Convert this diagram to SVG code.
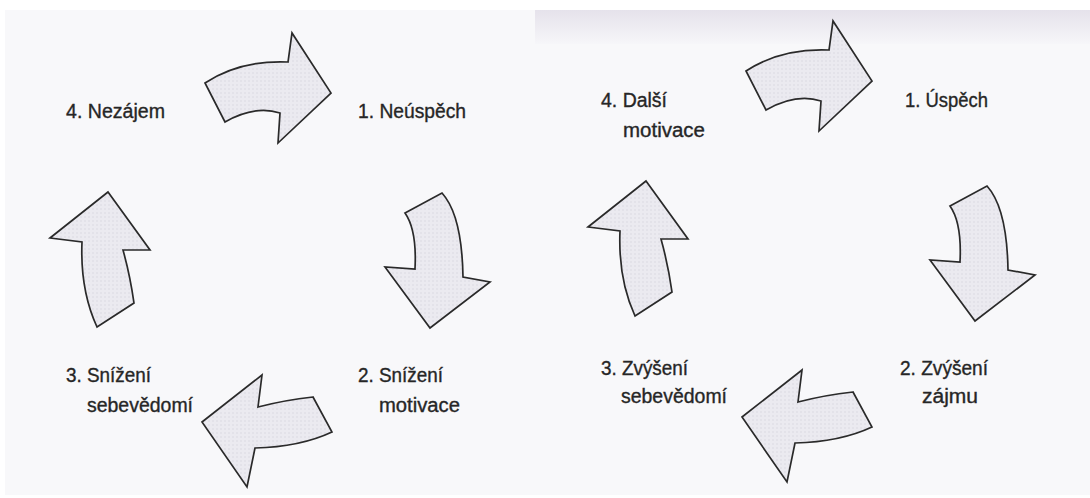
<svg xmlns="http://www.w3.org/2000/svg" width="1090" height="498" viewBox="0 0 1090 498">
  <defs>
    <linearGradient id="topShade" x1="0" y1="0" x2="0" y2="1">
      <stop offset="0" stop-color="#e5e2eb"/>
      <stop offset="1" stop-color="#f6f6f9"/>
    </linearGradient>
    <pattern id="dots" width="4" height="4" patternUnits="userSpaceOnUse">
      <rect width="4" height="4" fill="#ebeaf0"/>
      <circle cx="1" cy="1" r="0.7" fill="#d6d4de"/>
    </pattern>
    <path id="arrTop" d="M205,83 Q240,60 288,62 L292,33 L331,93 L278,143 L280,113 Q255,105 225,122 Z"/>
    <path id="arrRight" d="M405,213 L442,193 Q462,215 463,277 L490,282 L430,328 L385,267 L415,269 Q417,230 405,213 Z"/>
    <path id="arrBottom" d="M313,397 Q285,400 258,407 L262,375 L202,422 L247,487 L255,448 Q300,447 332,432 Z"/>
    <path id="arrLeft" d="M108,192 L50,238 L82,242 Q80,290 97,327 L134,303 Q130,275 123,250 L150,250 Z"/>
  </defs>
  <style>
    .arrow { fill: url(#dots); stroke: #2a2a2a; stroke-width: 1.7; stroke-linejoin: miter; }
    .lbl { font-family: "Liberation Sans Narrow", "Liberation Sans", Arial, sans-serif; font-size: 20px; fill: #262626; stroke: #262626; stroke-width: 0.35; }
  </style>

  <rect x="0" y="0" width="1090" height="498" fill="#ffffff"/>
  <rect x="5" y="10" width="1085" height="485" fill="#f8f8fa"/>
  <rect x="535" y="10" width="555" height="34" fill="url(#topShade)"/>

  <g id="connectors">
    <g id="left-cycle">
      <use href="#arrTop" class="arrow"/>
      <use href="#arrRight" class="arrow"/>
      <use href="#arrBottom" class="arrow"/>
      <use href="#arrLeft" class="arrow"/>
    </g>
    <g id="right-cycle">
      <use href="#arrTop" class="arrow" transform="translate(541,-12)"/>
      <use href="#arrRight" class="arrow" transform="translate(545,-7)"/>
      <use href="#arrBottom" class="arrow" transform="translate(540,-5)"/>
      <use href="#arrLeft" class="arrow" transform="translate(538,-11)"/>
    </g>
  </g>

  <g id="n-nezajem"><text class="lbl" x="66" y="118" textLength="99" lengthAdjust="spacingAndGlyphs">4. Nezájem</text></g>
  <g id="n-neuspech"><text class="lbl" x="358" y="118" textLength="108" lengthAdjust="spacingAndGlyphs">1. Neúspěch</text></g>
  <g id="n-snizeni-motivace">
    <text class="lbl" x="358" y="382" textLength="85" lengthAdjust="spacingAndGlyphs">2. Snížení</text>
    <text class="lbl" x="379" y="412" textLength="81" lengthAdjust="spacingAndGlyphs">motivace</text>
  </g>
  <g id="n-snizeni-sebevedomi">
    <text class="lbl" x="66" y="382" textLength="85" lengthAdjust="spacingAndGlyphs">3. Snížení</text>
    <text class="lbl" x="87" y="412" textLength="106" lengthAdjust="spacingAndGlyphs">sebevědomí</text>
  </g>

  <g id="n-dalsi-motivace">
    <text class="lbl" x="601" y="107" textLength="66" lengthAdjust="spacingAndGlyphs">4. Další</text>
    <text class="lbl" x="623" y="137" textLength="82" lengthAdjust="spacingAndGlyphs">motivace</text>
  </g>
  <g id="n-uspech"><text class="lbl" x="905" y="107" textLength="83" lengthAdjust="spacingAndGlyphs">1. Úspěch</text></g>
  <g id="n-zvyseni-zajmu">
    <text class="lbl" x="900" y="375" textLength="88" lengthAdjust="spacingAndGlyphs">2. Zvýšení</text>
    <text class="lbl" x="922" y="403" textLength="56" lengthAdjust="spacingAndGlyphs">zájmu</text>
  </g>
  <g id="n-zvyseni-sebevedomi">
    <text class="lbl" x="601" y="375" textLength="87" lengthAdjust="spacingAndGlyphs">3. Zvýšení</text>
    <text class="lbl" x="621" y="403" textLength="106" lengthAdjust="spacingAndGlyphs">sebevědomí</text>
  </g>
</svg>
